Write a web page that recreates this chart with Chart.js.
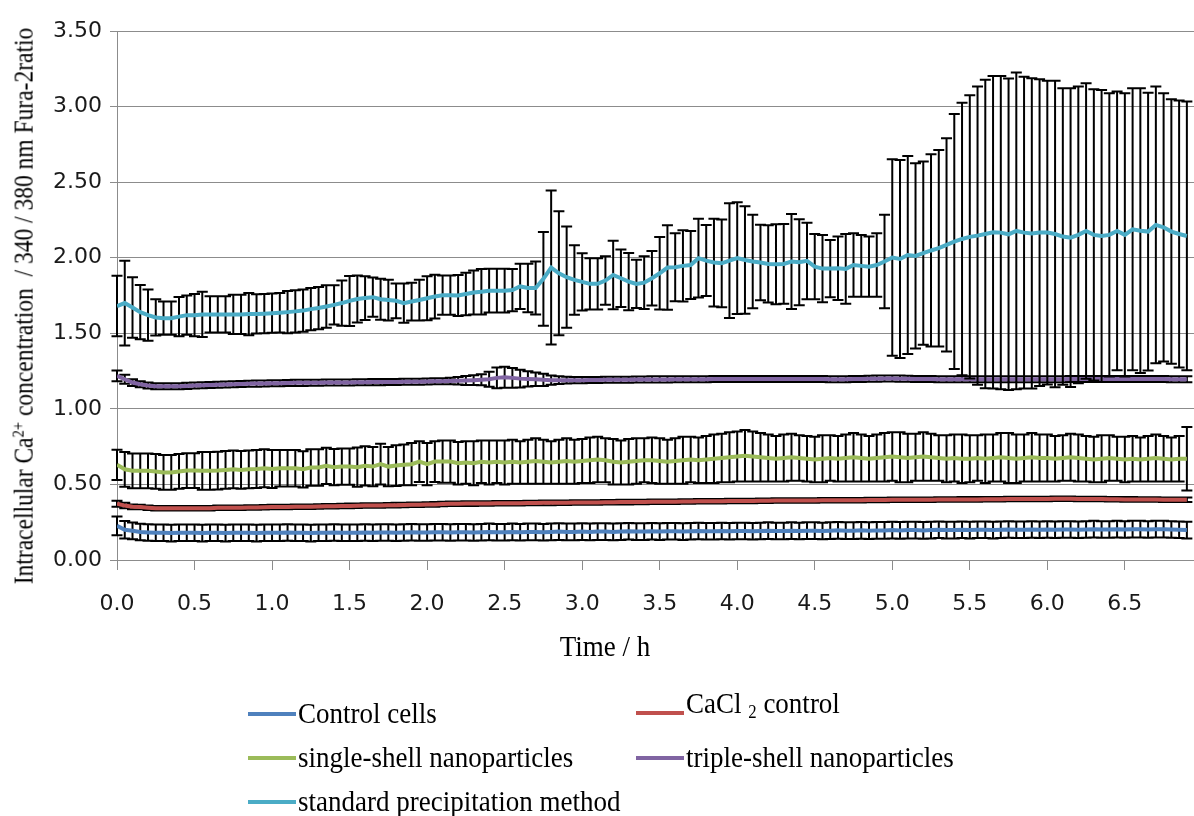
<!DOCTYPE html>
<html>
<head>
<meta charset="utf-8">
<script src="https://cdn.jsdelivr.net/npm/chart.js@4.4.1/dist/chart.umd.min.js"></script>
<style>
  html, body { margin: 0; padding: 0; background: #fff; }
  #wrap { position: relative; width: 1194px; height: 816px; overflow: hidden; }
  #chart { position: absolute; left: 0; top: 0; }
  .serif { position: absolute; white-space: nowrap; color: #000;
           font-family: "Liberation Serif", "Times New Roman", serif; line-height: 1; }
  #ytitle { left: 24px; top: 306px; font-size: 23.5px;
            transform: translate(-50%, -50%) rotate(-90deg) scaleY(1.12); }
  #xtitle { left: 605px; top: 647px; font-size: 27px; transform: translate(-50%, -50%) scaleY(1.08); }
  .sw { position: absolute; width: 48px; height: 4px; }
  .lt { font-size: 27px; transform: translateY(-50%) scaleY(1.08); }
  sup { font-size: 0.62em; vertical-align: 0.55em; line-height: 0; }
  sub { font-size: 0.62em; vertical-align: -0.25em; line-height: 0; }
</style>
</head>
<body>
<div id="wrap">
  <canvas id="chart" width="1194" height="816"></canvas>
  <div class="serif" id="ytitle">Intracellular Ca<sup>2+</sup> concentration &nbsp;/ 340 / 380 nm Fura-2ratio</div>
  <div class="serif" id="xtitle">Time / h</div>
  <div id="legend"></div>
</div>
<script>
// Sampling times (h), one reading every 3 minutes
const times = [
  0.00,0.05,0.10,0.15,0.20,0.25,0.30,0.35,0.40,0.45,0.50,0.55,0.60,0.65,0.70,0.75,0.80,0.85,0.90,0.95,
  1.00,1.05,1.10,1.15,1.20,1.25,1.30,1.35,1.40,1.45,1.50,1.55,1.60,1.65,1.70,1.75,1.80,1.85,1.90,1.95,
  2.00,2.05,2.10,2.15,2.20,2.25,2.30,2.35,2.40,2.45,2.50,2.55,2.60,2.65,2.70,2.75,2.80,2.85,2.90,2.95,
  3.00,3.05,3.10,3.15,3.20,3.25,3.30,3.35,3.40,3.45,3.50,3.55,3.60,3.65,3.70,3.75,3.80,3.85,3.90,3.95,
  4.00,4.05,4.10,4.15,4.20,4.25,4.30,4.35,4.40,4.45,4.50,4.55,4.60,4.65,4.70,4.75,4.80,4.85,4.90,4.95,
  5.00,5.05,5.10,5.15,5.20,5.25,5.30,5.35,5.40,5.45,5.50,5.55,5.60,5.65,5.70,5.75,5.80,5.85,5.90,5.95,
  6.00,6.05,6.10,6.15,6.20,6.25,6.30,6.35,6.40,6.45,6.50,6.55,6.60,6.65,6.70,6.75,6.80,6.85,6.90
];

const xTickLabels = ["0.0","0.5","1.0","1.5","2.0","2.5","3.0","3.5","4.0","4.5","5.0","5.5","6.0","6.5"];
const yTickLabels = ["0.00","0.50","1.00","1.50","2.00","2.50","3.00","3.50"];

// Control cells
const controlMean = [
  0.226,0.200,0.193,0.185,0.182,0.180,0.180,0.178,0.180,0.180,0.180,0.178,0.180,0.180,0.178,0.180,0.180,0.180,0.178,0.180,
  0.180,0.180,0.182,0.180,0.180,0.178,0.180,0.180,0.182,0.180,0.180,0.180,0.182,0.180,0.182,0.182,0.180,0.182,0.184,0.182,
  0.182,0.184,0.184,0.182,0.184,0.184,0.182,0.184,0.186,0.184,0.184,0.186,0.184,0.186,0.186,0.184,0.186,0.188,0.186,0.186,
  0.188,0.186,0.188,0.188,0.186,0.188,0.190,0.188,0.188,0.190,0.188,0.190,0.190,0.188,0.190,0.192,0.190,0.190,0.192,0.190,
  0.192,0.192,0.190,0.192,0.194,0.192,0.192,0.194,0.192,0.194,0.194,0.192,0.194,0.196,0.194,0.194,0.196,0.194,0.196,0.196,
  0.198,0.196,0.198,0.198,0.196,0.198,0.200,0.198,0.198,0.200,0.198,0.200,0.200,0.198,0.200,0.202,0.200,0.200,0.202,0.200,
  0.202,0.200,0.202,0.202,0.200,0.202,0.204,0.202,0.202,0.204,0.202,0.204,0.204,0.202,0.204,0.204,0.202,0.200,0.198
];
const controlErr = [
  0.062,0.058,0.055,0.055,0.055,0.055,0.055,0.055,0.055,0.055,0.055,0.055,0.055,0.055,0.055,0.055,0.055,0.055,0.055,0.055,
  0.055,0.055,0.055,0.055,0.055,0.055,0.055,0.055,0.055,0.055,0.055,0.055,0.055,0.055,0.055,0.055,0.055,0.055,0.055,0.055,
  0.055,0.055,0.055,0.055,0.055,0.055,0.055,0.055,0.055,0.055,0.055,0.055,0.055,0.055,0.055,0.055,0.055,0.055,0.055,0.055,
  0.055,0.055,0.055,0.055,0.055,0.055,0.055,0.055,0.055,0.055,0.055,0.055,0.055,0.055,0.055,0.055,0.055,0.055,0.055,0.055,
  0.055,0.055,0.055,0.055,0.055,0.055,0.055,0.055,0.055,0.055,0.055,0.055,0.055,0.055,0.055,0.055,0.055,0.055,0.055,0.055,
  0.055,0.055,0.055,0.055,0.055,0.055,0.055,0.055,0.055,0.055,0.055,0.055,0.055,0.055,0.055,0.055,0.055,0.055,0.055,0.055,
  0.055,0.055,0.055,0.055,0.055,0.055,0.055,0.055,0.055,0.055,0.055,0.055,0.055,0.055,0.055,0.055,0.055,0.055,0.055
];

// CaCl2 control
const cacl2Mean = [
  0.372,0.360,0.352,0.350,0.346,0.343,0.343,0.343,0.343,0.343,0.343,0.343,0.343,0.345,0.345,0.346,0.346,0.347,0.348,0.349,
  0.350,0.350,0.351,0.352,0.352,0.353,0.354,0.355,0.356,0.357,0.358,0.359,0.360,0.360,0.361,0.362,0.363,0.364,0.365,0.366,
  0.367,0.368,0.370,0.372,0.372,0.373,0.373,0.374,0.374,0.375,0.375,0.376,0.376,0.377,0.377,0.378,0.378,0.379,0.379,0.380,
  0.380,0.381,0.381,0.382,0.382,0.383,0.383,0.384,0.384,0.385,0.385,0.386,0.386,0.387,0.387,0.388,0.388,0.389,0.389,0.390,
  0.390,0.391,0.391,0.392,0.392,0.393,0.393,0.393,0.394,0.394,0.394,0.395,0.395,0.395,0.396,0.396,0.396,0.397,0.397,0.397,
  0.398,0.398,0.398,0.399,0.399,0.399,0.400,0.400,0.400,0.401,0.401,0.401,0.402,0.402,0.402,0.403,0.403,0.403,0.404,0.404,
  0.404,0.405,0.405,0.405,0.404,0.404,0.403,0.403,0.402,0.402,0.401,0.401,0.400,0.400,0.400,0.399,0.399,0.398,0.398
];
const cacl2Err = [
  0.020,0.018,0.016,0.015,0.015,0.015,0.015,0.015,0.015,0.015,0.015,0.015,0.015,0.015,0.015,0.015,0.015,0.015,0.015,0.015,
  0.015,0.015,0.015,0.015,0.015,0.015,0.015,0.015,0.015,0.015,0.015,0.015,0.015,0.015,0.015,0.015,0.015,0.015,0.015,0.015,
  0.015,0.015,0.015,0.015,0.015,0.015,0.015,0.015,0.015,0.015,0.015,0.015,0.015,0.015,0.015,0.015,0.015,0.015,0.015,0.015,
  0.015,0.015,0.015,0.015,0.015,0.015,0.015,0.015,0.015,0.015,0.015,0.015,0.015,0.015,0.015,0.015,0.015,0.015,0.015,0.015,
  0.015,0.015,0.015,0.015,0.015,0.015,0.015,0.015,0.015,0.015,0.015,0.015,0.015,0.015,0.015,0.015,0.015,0.015,0.015,0.015,
  0.015,0.015,0.015,0.015,0.015,0.015,0.015,0.015,0.015,0.015,0.015,0.015,0.015,0.015,0.015,0.015,0.015,0.015,0.015,0.015,
  0.015,0.015,0.015,0.015,0.015,0.015,0.015,0.015,0.015,0.015,0.015,0.015,0.015,0.015,0.015,0.015,0.015,0.015,0.015
];

// single-shell nanoparticles
const singleMean = [
  0.630,0.600,0.590,0.590,0.590,0.586,0.579,0.579,0.586,0.592,0.592,0.590,0.590,0.592,0.596,0.600,0.596,0.600,0.602,0.607,
  0.602,0.607,0.607,0.607,0.600,0.612,0.612,0.623,0.614,0.618,0.618,0.614,0.623,0.618,0.634,0.618,0.625,0.630,0.634,0.651,
  0.634,0.651,0.651,0.651,0.640,0.645,0.640,0.650,0.645,0.650,0.645,0.650,0.645,0.650,0.655,0.650,0.645,0.650,0.655,0.650,
  0.655,0.660,0.665,0.660,0.650,0.645,0.650,0.655,0.660,0.660,0.655,0.650,0.655,0.660,0.665,0.660,0.665,0.670,0.675,0.680,
  0.685,0.690,0.685,0.680,0.675,0.670,0.675,0.680,0.675,0.670,0.665,0.670,0.675,0.670,0.675,0.680,0.675,0.670,0.675,0.680,
  0.685,0.680,0.675,0.680,0.685,0.680,0.675,0.670,0.675,0.670,0.670,0.675,0.670,0.675,0.680,0.675,0.670,0.675,0.680,0.675,
  0.675,0.670,0.675,0.680,0.675,0.670,0.665,0.670,0.675,0.670,0.665,0.670,0.665,0.670,0.675,0.670,0.665,0.670,0.670
];
const singleErr = [
  0.100,0.115,0.115,0.115,0.115,0.115,0.115,0.115,0.115,0.115,0.115,0.125,0.125,0.125,0.125,0.125,0.125,0.125,0.125,0.125,
  0.125,0.120,0.120,0.120,0.120,0.120,0.120,0.120,0.120,0.120,0.120,0.130,0.130,0.130,0.135,0.130,0.135,0.135,0.140,0.135,
  0.140,0.135,0.140,0.140,0.140,0.140,0.145,0.140,0.145,0.140,0.145,0.145,0.140,0.145,0.150,0.145,0.140,0.145,0.150,0.145,
  0.145,0.150,0.150,0.145,0.150,0.145,0.150,0.150,0.145,0.150,0.150,0.145,0.150,0.155,0.150,0.150,0.155,0.160,0.160,0.165,
  0.165,0.170,0.165,0.160,0.155,0.150,0.155,0.155,0.150,0.150,0.150,0.155,0.150,0.150,0.155,0.160,0.155,0.150,0.155,0.160,
  0.160,0.165,0.160,0.155,0.160,0.155,0.150,0.155,0.155,0.160,0.155,0.150,0.160,0.155,0.160,0.165,0.160,0.155,0.160,0.155,
  0.155,0.150,0.150,0.155,0.155,0.150,0.150,0.155,0.150,0.145,0.150,0.150,0.145,0.150,0.155,0.150,0.145,0.150,0.210
];

// triple-shell nanoparticles
const tripleMean = [
  1.218,1.196,1.174,1.163,1.154,1.150,1.150,1.150,1.150,1.152,1.154,1.156,1.158,1.160,1.161,1.163,1.164,1.166,1.167,1.168,
  1.170,1.170,1.171,1.172,1.172,1.173,1.173,1.174,1.174,1.175,1.175,1.176,1.176,1.177,1.177,1.178,1.178,1.179,1.180,1.180,
  1.181,1.182,1.183,1.184,1.186,1.188,1.190,1.193,1.196,1.205,1.209,1.205,1.200,1.198,1.196,1.192,1.190,1.190,1.190,1.190,
  1.190,1.191,1.191,1.192,1.192,1.193,1.193,1.194,1.194,1.195,1.195,1.195,1.196,1.196,1.196,1.196,1.196,1.197,1.197,1.197,
  1.197,1.197,1.197,1.197,1.197,1.197,1.197,1.197,1.197,1.197,1.197,1.197,1.196,1.196,1.196,1.197,1.198,1.199,1.200,1.201,
  1.201,1.200,1.199,1.198,1.197,1.197,1.196,1.196,1.196,1.196,1.196,1.196,1.196,1.196,1.196,1.196,1.196,1.196,1.196,1.196,
  1.196,1.196,1.196,1.197,1.197,1.197,1.197,1.197,1.198,1.198,1.198,1.198,1.198,1.198,1.197,1.197,1.196,1.196,1.196
];
const tripleErr = [
  0.035,0.030,0.022,0.020,0.020,0.020,0.020,0.020,0.020,0.020,0.020,0.020,0.020,0.020,0.020,0.020,0.020,0.020,0.020,0.020,
  0.020,0.020,0.020,0.020,0.020,0.020,0.020,0.020,0.020,0.020,0.020,0.020,0.020,0.020,0.020,0.020,0.020,0.020,0.020,0.020,
  0.020,0.020,0.020,0.022,0.025,0.030,0.032,0.036,0.050,0.068,0.070,0.066,0.058,0.050,0.045,0.040,0.030,0.025,0.022,0.020,
  0.020,0.020,0.020,0.020,0.020,0.020,0.020,0.020,0.020,0.020,0.020,0.020,0.020,0.020,0.020,0.020,0.020,0.020,0.020,0.020,
  0.020,0.020,0.020,0.020,0.020,0.020,0.020,0.020,0.020,0.020,0.020,0.020,0.020,0.020,0.020,0.020,0.020,0.020,0.020,0.020,
  0.020,0.020,0.020,0.020,0.020,0.020,0.020,0.020,0.020,0.020,0.020,0.020,0.020,0.020,0.020,0.020,0.020,0.020,0.020,0.020,
  0.020,0.020,0.020,0.020,0.020,0.020,0.020,0.020,0.020,0.020,0.020,0.020,0.020,0.020,0.020,0.020,0.020,0.020,0.020
];

// standard precipitation method
const standardMean = [
  1.680,1.700,1.670,1.640,1.620,1.605,1.600,1.600,1.610,1.620,1.620,1.625,1.625,1.625,1.625,1.625,1.625,1.627,1.628,1.630,
  1.633,1.636,1.640,1.645,1.650,1.660,1.667,1.677,1.688,1.700,1.714,1.727,1.733,1.739,1.725,1.720,1.715,1.699,1.710,1.720,
  1.732,1.743,1.752,1.752,1.750,1.760,1.770,1.775,1.782,1.782,1.782,1.786,1.810,1.800,1.800,1.860,1.935,1.897,1.871,1.853,
  1.840,1.827,1.827,1.849,1.886,1.864,1.842,1.827,1.835,1.864,1.897,1.935,1.937,1.946,1.952,1.997,1.981,1.968,1.963,1.981,
  1.997,1.985,1.975,1.968,1.959,1.957,1.959,1.975,1.970,1.979,1.941,1.928,1.928,1.930,1.926,1.952,1.946,1.941,1.952,1.975,
  2.001,1.992,2.018,2.012,2.030,2.048,2.063,2.085,2.107,2.124,2.138,2.146,2.157,2.168,2.166,2.155,2.177,2.166,2.161,2.166,
  2.166,2.157,2.140,2.133,2.151,2.177,2.151,2.144,2.151,2.177,2.151,2.188,2.179,2.173,2.217,2.201,2.173,2.157,2.144
];
const standardErr = [
  0.200,0.280,0.200,0.180,0.170,0.120,0.110,0.110,0.130,0.130,0.140,0.150,0.120,0.120,0.120,0.130,0.130,0.140,0.130,0.130,
  0.130,0.130,0.140,0.140,0.140,0.140,0.140,0.140,0.130,0.150,0.165,0.155,0.145,0.130,0.135,0.135,0.115,0.130,0.125,0.135,
  0.145,0.145,0.130,0.130,0.135,0.140,0.145,0.150,0.145,0.145,0.145,0.140,0.150,0.160,0.175,0.310,0.510,0.410,0.335,0.230,
  0.190,0.170,0.170,0.160,0.227,0.190,0.190,0.160,0.175,0.180,0.240,0.280,0.225,0.235,0.225,0.260,0.235,0.290,0.290,0.380,
  0.370,0.355,0.310,0.250,0.255,0.265,0.264,0.314,0.284,0.253,0.216,0.223,0.190,0.210,0.231,0.210,0.205,0.200,0.210,0.310,
  0.650,0.655,0.655,0.613,0.606,0.636,0.650,0.705,0.844,0.902,0.937,0.986,1.020,1.034,1.036,1.030,1.048,1.032,1.026,1.014,
  1.005,1.014,0.981,0.988,0.981,0.977,0.963,0.966,0.937,0.922,0.937,0.933,0.942,0.919,0.915,0.887,0.875,0.883,0.889
];

const seriesNames = [
  "Control cells", "CaCl 2 control", "single-shell nanoparticles",
  "triple-shell nanoparticles", "standard precipitation method"
];
const seriesColors = ["#4F81BD", "#C0504D", "#9BBB59", "#8064A2", "#4BACC6"];
const seriesMeans = [controlMean, cacl2Mean, singleMean, tripleMean, standardMean];
const seriesErrs = [controlErr, cacl2Err, singleErr, tripleErr, standardErr];

// Vertical error bars with caps, painted just before each line
const errorBars = {
  id: 'errorBars',
  beforeDatasetDraw(chart, args) {
    const ds = chart.data.datasets[args.index];
    if (!ds.errors) return;
    const xs = chart.scales.x, ys = chart.scales.y, ctx = chart.ctx;
    const cap = 5.5;
    ctx.save();
    ctx.strokeStyle = '#000';
    ctx.lineWidth = 2;
    ctx.beginPath();
    ds.data.forEach((p, i) => {
      const e = ds.errors[i];
      const x = xs.getPixelForValue(p.x);
      const yt = ys.getPixelForValue(p.y + e);
      const yb = ys.getPixelForValue(p.y - e);
      ctx.moveTo(x, yt); ctx.lineTo(x, yb);
      ctx.moveTo(x - cap, yt); ctx.lineTo(x + cap, yt);
      ctx.moveTo(x - cap, yb); ctx.lineTo(x + cap, yb);
    });
    ctx.stroke();
    ctx.restore();
  }
};

const datasets = seriesNames.map((name, s) => ({
  label: name,
  data: times.map((t, i) => ({ x: t, y: seriesMeans[s][i] })),
  errors: seriesErrs[s],
  borderColor: seriesColors[s],
  backgroundColor: seriesColors[s],
  borderWidth: 4,
  pointRadius: 0,
  tension: 0,
  order: 4 - s
}));

const gridGray = '#8c8c8c';

new Chart(document.getElementById('chart'), {
  type: 'line',
  data: { datasets },
  plugins: [errorBars],
  options: {
    responsive: false,
    animation: false,
    devicePixelRatio: 1,
    layout: { padding: { left: 0, right: 0, top: 31, bottom: 0 } },
    plugins: { legend: { display: false }, tooltip: { enabled: false } },
    scales: {
      x: {
        type: 'linear',
        min: 0,
        max: 6.946,
        afterFit(s) { s.height = 256; },
        afterBuildTicks(s) { s.ticks = xTickLabels.map(l => ({ value: parseFloat(l) })); },
        grid: { drawOnChartArea: false, drawTicks: true, tickLength: 10, color: gridGray, lineWidth: 1 },
        border: { color: gridGray, width: 1 },
        ticks: {
          autoSkip: false, maxRotation: 0, padding: 21,
          color: '#1a1a1a',
          font: { family: 'DejaVu Sans', size: 22 },
          callback: v => xTickLabels.find(l => parseFloat(l) === v)
        }
      },
      y: {
        min: 0,
        max: 3.5,
        afterFit(s) { s.width = 117; },
        afterBuildTicks(s) { s.ticks = yTickLabels.map(l => ({ value: parseFloat(l) })); },
        grid: { color: gridGray, lineWidth: 1, drawTicks: true, tickLength: 7 },
        border: { color: gridGray, width: 1 },
        ticks: {
          padding: 8,
          color: '#1a1a1a',
          font: { family: 'DejaVu Sans', size: 22 },
          callback: v => yTickLabels.find(l => parseFloat(l) === v)
        }
      }
    }
  }
});

// Legend laid out in two columns beneath the plot
const legendPos = [[248, 714], [636, 713], [248, 758], [636, 758], [248, 802]];
const legendHtml = ["Control cells", "CaCl <sub>2</sub> control", "single-shell nanoparticles",
                    "triple-shell nanoparticles", "standard precipitation method"];
const lg = document.getElementById('legend');
legendPos.forEach(([x, y], s) => {
  const sw = document.createElement('div');
  sw.className = 'sw';
  sw.style.left = x + 'px';
  sw.style.top = (y - 2) + 'px';
  sw.style.background = seriesColors[s];
  lg.appendChild(sw);
  const t = document.createElement('div');
  t.className = 'serif lt';
  t.style.left = (x + 50) + 'px';
  t.style.top = (s === 1 ? y - 9 : y) + 'px';
  t.innerHTML = legendHtml[s];
  lg.appendChild(t);
});
</script>
</body>
</html>
